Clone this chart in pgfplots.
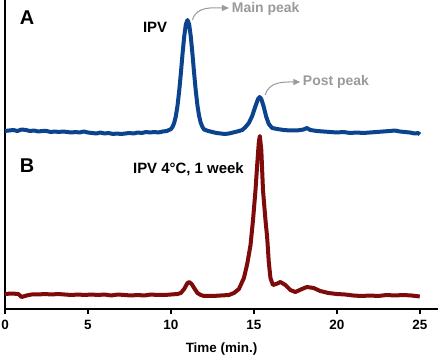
\documentclass[border=0pt]{standalone}
\usepackage{fontspec}
\setmainfont{Liberation Sans}
\usepackage{pgfplots}
\pgfplotsset{compat=1.18}
\usetikzlibrary{arrows.meta}
\definecolor{traceA}{HTML}{0C438F}
\definecolor{traceB}{HTML}{7E0A0A}
\definecolor{annot}{HTML}{9A9A9A}
\begin{document}
\begin{tikzpicture}
\begin{axis}[
  scale only axis, width=433bp, height=309bp,
  xmin=0, xmax=26.1, ymin=0, ymax=309,
  axis lines*=left,
  axis line style={line width=2bp, black},
  ytick=\empty,
  xtick={0,5,10,15,20,25},
  tick align=outside,
  major tick length=5bp,
  tick style={line width=1.6bp, black},
  /pgf/number format/assume math mode=true,
  xticklabel style={font=\fontsize{13.5}{15}\selectfont\bfseries, yshift=-2.5bp},
  xlabel={Time (min.)},
  xlabel style={font=\fontsize{13.5}{15}\selectfont\bfseries, yshift=-6bp},
  clip=false,
]
\addplot[traceA, line width=4bp, line join=round] table {
0.0 178
0.25 178.5
0.5 179
0.75 178
1.0 179.5
1.25 179
1.5 178
1.75 178.5
2.0 177.5
2.25 178
2.5 178
2.75 177
3.0 177.5
3.25 177
3.5 177.5
3.75 177
4.0 176.5
4.25 177
4.5 176.5
4.75 177.5
5.0 176.5
5.25 176
5.5 175.5
5.75 176.5
6.0 175.5
6.25 176
6.5 175
6.75 175.5
7.0 175
7.25 175.5
7.5 176
7.75 175.5
8.0 176.5
8.25 176
8.5 177
8.75 176.5
9.0 177
9.25 176.5
9.5 177.5
9.75 178
10.0 179.9
10.1 182.1
10.2 186.1
10.3 193.0
10.4 203.5
10.5 218.1
10.6 235.7
10.7 254.9
10.8 272.2
10.9 284.6
11.0 289
11.1 284.6
11.2 272.2
11.3 254.9
11.4 235.7
11.5 218.1
11.6 203.5
11.7 193.0
11.8 186.1
11.9 182.1
12.0 179.5
12.25 178
12.5 177
12.75 176
13.0 175.5
13.25 175
13.5 175.5
13.75 176.5
14.0 177.5
14.3 179
14.5 182
14.7 186
14.9 193
15.1 203
15.25 210
15.35 212
15.45 210
15.6 202
15.75 192
15.9 185
16.1 181
16.4 180
16.8 179
17.2 178.5
17.6 178.5
18.0 179.5
18.2 181
18.4 179
18.8 178
19.2 177.5
19.6 177
20.0 176.5
20.4 177
20.8 176
21.2 176.5
21.6 176
22.0 176.5
22.4 177
22.8 177.5
23.2 178
23.5 178.5
23.8 177.5
24.1 177
24.4 176.5
24.7 175.5
24.9 176
25.0 174.5
};
\addplot[traceB, line width=4bp, line join=round] table {
0.0 15
0.4 15.5
0.8 15
1.0 12
1.3 13.5
1.6 14.5
2.0 14.5
2.4 15
2.8 14.5
3.2 15
3.6 14.5
4.0 14
4.4 14.5
4.8 14
5.2 14.5
5.6 14
6.0 14.5
6.4 13.5
6.8 14.5
7.2 14
7.6 13.5
8.0 14
8.4 13.5
8.8 14.5
9.2 14
9.6 14
10.0 14.5
10.4 15
10.6 16
10.8 20
11.0 26
11.1 27
11.25 25
11.4 21
11.6 16
11.8 14
12.0 13
12.5 13
13.0 13.5
13.5 14
13.8 16
14.1 20
14.4 31
14.6 45
14.8 64
14.95 89
15.1 119
15.2 144
15.3 167
15.36 173
15.45 159
15.55 119
15.7 89
15.8 72
15.9 47
16.0 31
16.15 24
16.35 25
16.6 27
16.9 24
17.2 19
17.5 17
17.9 20
18.2 22
18.6 21
19.0 18
19.5 16
20.0 15
20.5 14.5
21.0 13.5
21.5 13
22.0 13.5
22.5 13
23.0 14
23.5 13.5
24.0 14
24.5 13.5
25.0 12.5
};
\node[font=\fontsize{20}{22}\selectfont\bfseries] at (axis cs:1.33,291) {A};
\node[font=\fontsize{20}{22}\selectfont\bfseries] at (axis cs:1.33,143) {B};
\node[font=\fontsize{15}{17}\selectfont\bfseries, anchor=west, inner sep=0pt] at (axis cs:8.31,282) {IPV};
\node[font=\fontsize{15}{17}\selectfont\bfseries, anchor=west, inner sep=0pt] at (axis cs:7.71,140) {IPV 4°C, 1 week};
\node[font=\fontsize{14}{16}\selectfont\bfseries, text=annot, anchor=west, inner sep=0pt] at (axis cs:13.67,300) {Main peak};
\node[font=\fontsize{14}{16}\selectfont\bfseries, text=annot, anchor=west, inner sep=0pt] at (axis cs:17.95,227) {Post peak};
\draw[annot, line width=1bp, -{Triangle[length=7bp,width=6bp]}] (axis cs:11.3,289) to[out=75,in=180] (axis cs:13.5,301);
\draw[annot, line width=1bp, -{Triangle[length=7bp,width=6bp]}] (axis cs:15.68,214) to[out=75,in=180] (axis cs:17.8,227);
\end{axis}
\pgfresetboundingbox
\path (current axis.south west) ++(-5bp,-46bp) coordinate (bbA);
\path (current axis.north east) ++(2bp,0bp) coordinate (bbB);
\path[use as bounding box] (bbA) rectangle (bbB);
\end{tikzpicture}
\end{document}
